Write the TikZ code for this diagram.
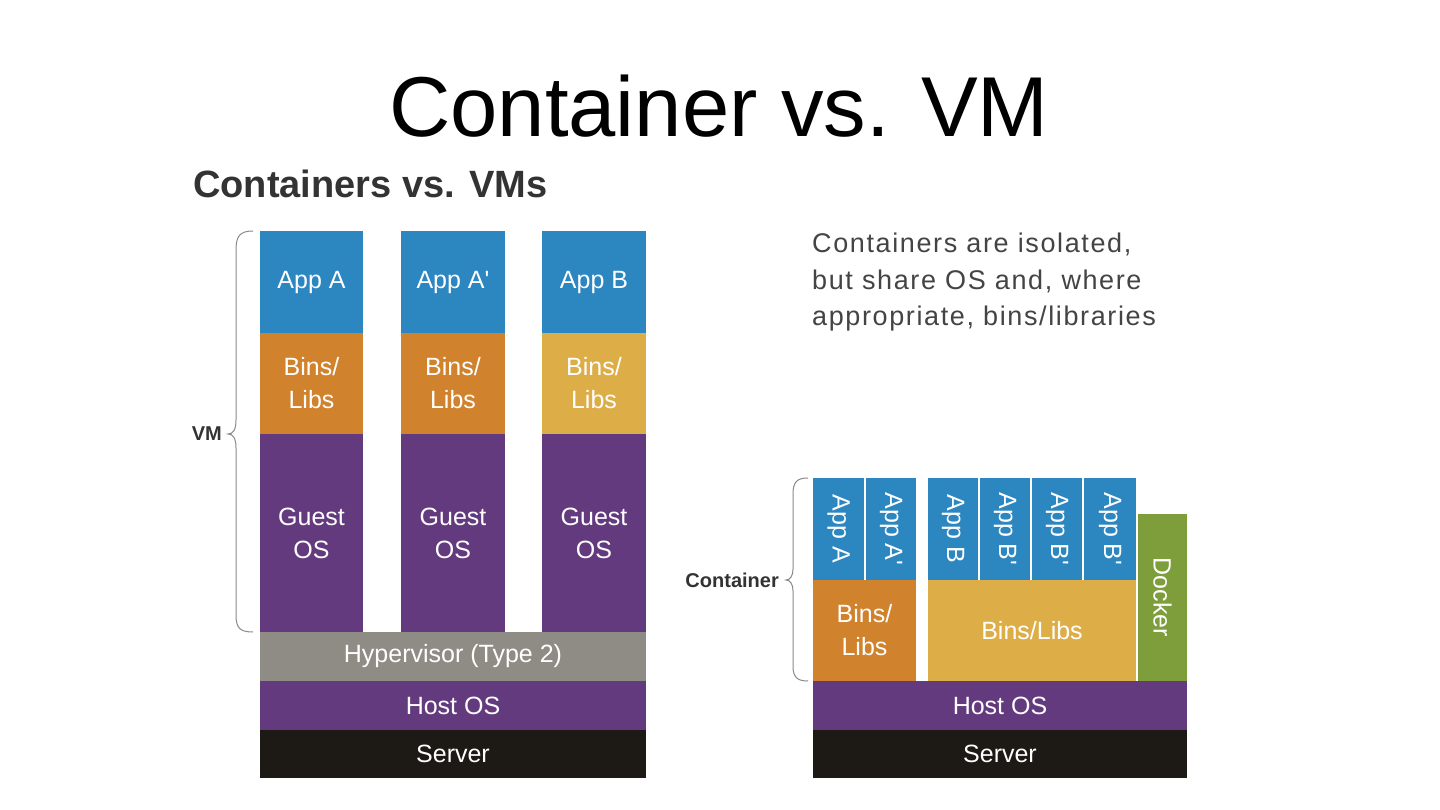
\documentclass[tikz,border=0pt]{standalone}
\usepackage{fontspec}
\setmainfont{Liberation Sans}
\newfontfamily\bodyfont{Liberation Sans}
\newfontfamily\notefont[LetterSpace=6]{Liberation Sans}
\definecolor{appblue}{HTML}{2C86C0}
\definecolor{binorange}{HTML}{D0822C}
\definecolor{binyellow}{HTML}{DDAE48}
\definecolor{ospurple}{HTML}{643A7E}
\definecolor{hypgray}{HTML}{8F8C86}
\definecolor{srvblack}{HTML}{1D1A15}
\definecolor{dockgreen}{HTML}{7E9E3C}
\definecolor{darktext}{HTML}{333333}
\definecolor{notetext}{HTML}{444444}
\definecolor{bracegray}{HTML}{8A8A8A}
\newcommand\blk[7]{\node[blk, fill=#6, minimum width={(#4-#2)*1pt}, minimum height={(#5-#3)*1pt}] (#1) at ({(#2+#4)/2},{(#3+#5)/2}) {#7};}
\newcommand\rblk[7]{\node[blk, fill=#6, minimum width={(#4-#2)*1pt}, minimum height={(#5-#3)*1pt}] (#1) at ({(#2+#4)/2},{(#3+#5)/2}) {};
  \node[rotate=-90, text=white, font=\bodyfont\fontsize{25}{33}\selectfont, inner sep=0] (#1t) at (#1.center) {#7};}
\begin{document}
\begin{tikzpicture}[x=1pt,y=-1pt,
  blk/.style={inner sep=0, outer sep=0, draw=none, text=white, align=center,
    font=\bodyfont\fontsize{25}{33}\selectfont},
  bracestyle/.style={draw=bracegray, line width=1pt}]
\useasboundingbox (0,0) rectangle (1440,810);
\fill[white] (0,0) rectangle (1440,810);
% titles
\node[anchor=base, inner sep=0, font=\fontsize{85}{90}\selectfont] (title) at (719,137) {Container vs. VM};
\node[anchor=base west, inner sep=0, text=darktext, font=\bfseries\fontsize{38}{40}\selectfont] (sub) at (193,198) {Containers vs. VMs};
% left stack
\blk{appA}{260}{231}{363}{333}{appblue}{App A}
\blk{appAp}{401}{231}{505}{333}{appblue}{App A'}
\blk{appB}{542}{231}{646}{333}{appblue}{App B}
\blk{binA}{260}{333}{363}{434}{binorange}{Bins/\\Libs}
\blk{binAp}{401}{333}{505}{434}{binorange}{Bins/\\Libs}
\blk{binB}{542}{333}{646}{434}{binyellow}{Bins/\\Libs}
\blk{gA}{260}{434}{363}{632}{ospurple}{Guest\\OS}
\blk{gAp}{401}{434}{505}{632}{ospurple}{Guest\\OS}
\blk{gB}{542}{434}{646}{632}{ospurple}{Guest\\OS}
\blk{hyp}{260}{632}{646}{681}{hypgray}{Hypervisor (Type 2)}
\blk{hostL}{260}{681}{646}{730}{ospurple}{Host OS}
\blk{srvL}{260}{730}{646}{778}{srvblack}{Server}
% VM brace
\coordinate (vmTop) at (253,231);
\coordinate (vmBot) at (253,632);
\coordinate (vmTip) at (228,434);
\draw[bracestyle] (vmTop) .. controls (240,231) and (236,236) .. (236,250) -- (236,420)
  .. controls (236,430) and (233,434) .. (vmTip)
  .. controls (233,434) and (236,438) .. (236,448) -- (236,615)
  .. controls (236,628) and (240,632) .. (vmBot);
\node[anchor=east, inner sep=0, text=darktext, font=\bfseries\fontsize{20}{22}\selectfont] (vmlab) at (222,434) {VM};
% note
\node[anchor=north west, inner sep=0, align=left, text=notetext, font=\notefont\fontsize{27}{36.5}\selectfont] (note) at (812,233) {Containers are isolated,\\but share OS and, where\\appropriate, bins/libraries};
% right stack
\rblk{cA}{813}{478}{864}{580}{appblue}{App A}
\rblk{cAp}{866}{478}{916}{580}{appblue}{App A'}
\rblk{cB}{928}{478}{978}{580}{appblue}{App B}
\rblk{cB1}{980}{478}{1030}{580}{appblue}{App B'}
\rblk{cB2}{1032}{478}{1082}{580}{appblue}{App B'}
\rblk{cB3}{1084}{478}{1136}{580}{appblue}{App B'}
\blk{cbinA}{813}{580}{916}{681}{binorange}{Bins/\\Libs}
\blk{cbinB}{928}{580}{1136}{681}{binyellow}{Bins/Libs}
\rblk{dock}{1138}{514}{1187}{681}{dockgreen}{Docker}
\blk{hostR}{813}{681}{1187}{730}{ospurple}{Host OS}
\blk{srvR}{813}{730}{1187}{778}{srvblack}{Server}
% container brace
\coordinate (ctTop) at (808,478);
\coordinate (ctBot) at (808,681);
\coordinate (ctTip) at (786,580);
\draw[bracestyle] (ctTop) .. controls (797,478) and (793,482) .. (793,494) -- (793,569)
  .. controls (793,576) and (790,580) .. (ctTip)
  .. controls (790,580) and (793,584) .. (793,591) -- (793,666)
  .. controls (793,677) and (797,681) .. (ctBot);
\node[anchor=east, inner sep=0, text=darktext, font=\bfseries\fontsize{20}{22}\selectfont] (ctlab) at (779,580) {Container};
\end{tikzpicture}
\end{document}
